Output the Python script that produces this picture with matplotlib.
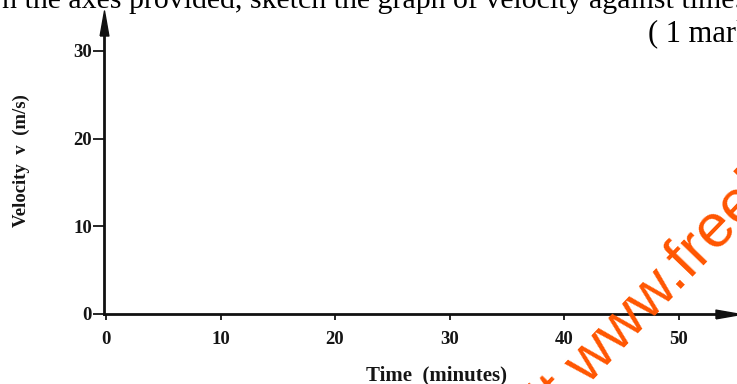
import matplotlib
matplotlib.use("Agg")
import matplotlib.pyplot as plt

# Data (empty axes for sketching)
x_ticks = [0, 10, 20, 30, 40, 50]
y_ticks = [0, 10, 20, 30]
x_tick_labels = ["0", "10", "20", "30", "40", "50"]
y_tick_labels = ["0", "10", "20", "30"]
x_label = "Time  (minutes)"
y_label = "Velocity  v  (m/s)"
header_line = "n the axes provided, sketch the graph of velocity against time."
marks_text = "( 1 mark)"
watermark = "Visit www.freekcsepastpapers.com"

W, H = 737, 384
fig = plt.figure(figsize=(W / 100, H / 100), dpi=100)
fig.patch.set_facecolor("white")

# axes placement (pixels)
x0_lim, x1_lim = -0.2, 54.3
y0_lim, y1_lim = 0, 33.2
xscale, yscale = 11.45, 8.77
zero_x_px, zero_y_px = 106, 314
left_px = zero_x_px + x0_lim * xscale
width_px = (x1_lim - x0_lim) * xscale
height_px = (y1_lim - y0_lim) * yscale
ax = fig.add_axes([left_px / W, (H - zero_y_px) / H, width_px / W, height_px / H])
ax.set_xlim(x0_lim, x1_lim)
ax.set_ylim(y0_lim, y1_lim)
ax.set_facecolor("none")

for s in ["top", "right"]:
    ax.spines[s].set_visible(False)
for s in ["left", "bottom"]:
    ax.spines[s].set_linewidth(2.0)
    ax.spines[s].set_color("#111111")

tick_font = dict(family="Liberation Serif", weight="bold", size=13.5)
ax.set_xticks(x_ticks)
ax.set_xticklabels(x_tick_labels, fontdict=tick_font, color="#151515")
ax.set_yticks(y_ticks)
ax.set_yticklabels(y_tick_labels, fontdict=tick_font, color="#151515")
ax.tick_params(axis="x", direction="out", length=4, width=1.3, pad=8, colors="#151515")
ax.tick_params(axis="y", direction="out", length=8, width=1.3, pad=0.5, colors="#151515")

# arrowheads
up_arrow = [(-0.35, -1), (0.35, -1), (0, 1), (-0.35, -1)]
right_arrow = [(-1, -0.35), (-1, 0.35), (1, 0), (-1, -0.35)]
ax.plot([0], [1], marker=up_arrow, markersize=18, color="#111111",
        transform=ax.transAxes, clip_on=False)
ax.plot([1], [0], marker=right_arrow, markersize=18, color="#111111",
        transform=ax.transAxes, clip_on=False)

# axis labels
fig.text(21 / W, 1 - 161 / H, y_label, rotation=90, ha="center", va="center",
         family="Liberation Serif", weight="bold", size=13.5, color="#151515")
fig.text(436 / W, 1 - 375 / H, x_label, ha="center", va="center",
         family="Liberation Serif", weight="bold", size=15, color="#151515")

# header text (partially cropped)
fig.text(2 / W, 1 - 8 / H, header_line, ha="left", va="baseline",
         family="Liberation Serif", size=21.5, color="black")
fig.text(648 / W, 1 - 41 / H, marks_text, ha="left", va="baseline",
         family="Liberation Serif", size=22, color="black")

# watermark
fig.text(497 / W, 1 - 480 / H, watermark, ha="left", va="baseline", rotation=46,
         rotation_mode="anchor", family="Liberation Sans", size=44, color="#ff5500")

fig.savefig("out.png", dpi=100)
